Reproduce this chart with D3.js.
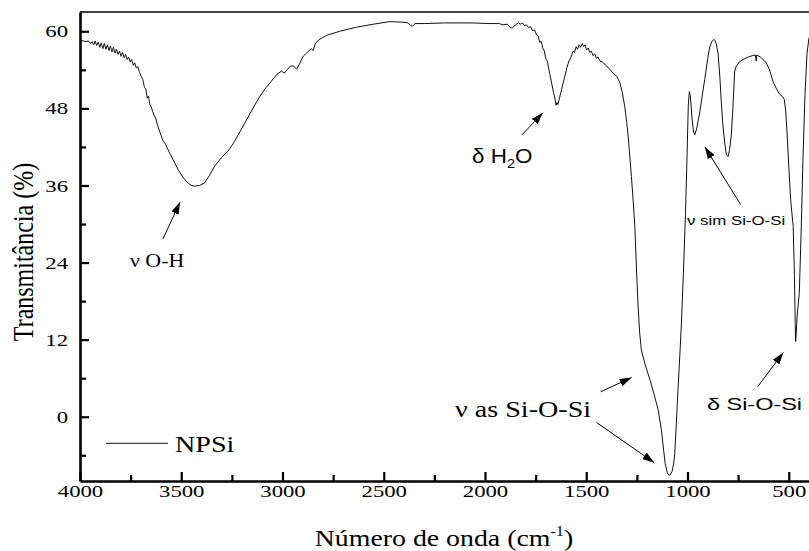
<!DOCTYPE html>
<html>
<head>
<meta charset="utf-8">
<script src="https://cdn.jsdelivr.net/npm/d3@7"></script>
<style>
    body { margin: 0; background: #fff; }
    #chart { width: 809px; height: 551px; }
</style>
</head>
<body>
<div id="chart"></div>
<script>

// FTIR spectrum of NPSi (cm-1, %)
const wavenumber = [
    4000, 3985, 3970, 3958, 3948, 3940, 3932, 3925, 3918, 3910, 3902, 3895, 3887, 3880, 3872, 3865,
    3857, 3850, 3842, 3835, 3827, 3820, 3812, 3805, 3797, 3790, 3782, 3775, 3767, 3760, 3752, 3745,
    3737, 3730, 3722, 3714, 3706, 3698, 3690, 3682, 3675, 3668, 3662, 3656, 3648, 3641, 3634, 3627,
    3615, 3600, 3590, 3578, 3566, 3540, 3516, 3490, 3467, 3450, 3434, 3410, 3385, 3360, 3335, 3300,
    3270, 3240, 3204, 3160, 3121, 3090, 3056, 3030, 3006, 2990, 2978, 2960, 2945, 2930, 2915, 2898,
    2875, 2858, 2848, 2838, 2820, 2780, 2717, 2640, 2552, 2470, 2400, 2380, 2368, 2358, 2345, 2300,
    2200, 2141, 2060, 1976, 1930, 1911, 1890, 1875, 1865, 1850, 1835, 1825, 1815, 1805, 1795, 1785,
    1775, 1765, 1755, 1745, 1738, 1730, 1722, 1715, 1708, 1700, 1692, 1685, 1678, 1670, 1662, 1655,
    1649, 1645, 1640, 1632, 1622, 1606, 1595, 1585, 1575, 1565, 1558, 1550, 1543, 1535, 1528, 1520,
    1513, 1506, 1498, 1490, 1483, 1475, 1466, 1458, 1450, 1442, 1433, 1420, 1400, 1385, 1367, 1350,
    1334, 1322, 1310, 1300, 1293, 1285, 1277, 1268, 1260, 1252, 1244, 1236, 1228, 1210, 1186, 1165,
    1145, 1129, 1118, 1110, 1100, 1092, 1084, 1076, 1068, 1063, 1055, 1047, 1038, 1030, 1020, 1010,
    1002, 996, 991, 986, 978, 970, 964, 955, 940, 915, 900, 890, 880, 870, 864, 858,
    849, 840, 833, 825, 816, 808, 800, 792, 784, 776, 767, 760, 745, 726, 700, 680,
    665, 661, 658, 640, 611, 595, 578, 560, 545, 530, 522, 515, 508, 500, 490, 478,
    472, 468, 466, 463, 458, 448, 438, 430, 420, 410, 400
];
const transmittance = [
    58.6, 58.5, 58.4, 58.5, 58.1, 58.4, 57.9, 58.5, 57.8, 58.3, 57.5, 58.2, 57.3, 58.1, 57.2, 57.9,
    57.0, 57.7, 56.8, 57.5, 56.6, 57.2, 56.4, 56.9, 56.1, 56.7, 55.9, 56.4, 55.6, 56.0, 55.2, 55.6,
    54.7, 55.1, 54.3, 54.5, 53.6, 53.0, 52.5, 51.3, 51.0, 49.6, 49.9, 48.7, 48.2, 47.5, 46.9, 46.5,
    45.2, 43.8, 43.0, 42.4, 41.6, 40.0, 38.5, 37.2, 36.4, 36.0, 35.9, 36.0, 36.4, 37.6, 39.0, 40.4,
    41.3, 42.7, 44.7, 47.2, 49.4, 50.9, 52.2, 53.2, 53.8, 53.5, 54.0, 54.6, 54.6, 54.1, 55.0, 56.1,
    56.8, 57.3, 57.0, 58.1, 58.7, 59.4, 60.0, 60.6, 61.1, 61.5, 61.4, 61.3, 60.9, 60.8, 61.2, 61.2,
    61.3, 61.3, 61.3, 61.2, 61.2, 61.0, 61.1, 60.6, 60.5, 61.0, 61.3, 61.1, 61.3, 60.9, 61.0, 60.6,
    60.7, 60.1, 60.2, 59.4, 59.3, 58.3, 58.4, 57.4, 57.0, 55.8, 55.3, 54.1, 53.0, 51.8, 50.5, 49.6,
    48.5, 48.9, 48.6, 49.6, 50.9, 53.0, 54.4, 55.4, 56.0, 56.9, 56.7, 57.6, 57.2, 57.9, 57.5, 58.1,
    57.6, 57.9, 57.1, 57.4, 56.7, 56.9, 56.2, 56.5, 55.8, 56.0, 55.4, 55.2, 54.6, 54.1, 53.5, 53.0,
    52.0, 50.5, 48.3, 45.8, 43.7, 40.6, 37.4, 33.5, 29.6, 23.0, 17.2, 13.0, 10.4, 8.2, 5.8, 3.5,
    1.1, -2.0, -5.2, -7.3, -8.7, -9.1, -9.0, -8.5, -7.2, -5.7, -1.0, 4.2, 9.5, 14.6, 22.5, 31.5,
    41.0, 48.5, 50.6, 50.0, 46.5, 44.3, 43.9, 44.8, 47.3, 52.5, 55.8, 57.6, 58.4, 58.7, 58.6, 58.0,
    56.6, 52.8, 48.9, 45.3, 42.6, 40.8, 40.5, 41.6, 43.7, 48.0, 53.8, 54.5, 55.2, 55.6, 56.0, 56.2,
    56.3, 55.4, 56.3, 56.0, 55.1, 54.0, 52.2, 51.0, 50.2, 49.8, 49.4, 47.6, 44.0, 39.0, 33.5, 29.6,
    22.0, 14.5, 11.7, 13.0, 16.0, 19.2, 29.6, 40.0, 50.0, 56.5, 59.0
];

const seriesName = "NPSi";

// axis ticks
const xMajorTicks = [4000, 3500, 3000, 2500, 2000, 1500, 1000, 500];
const xMinorTicks = [3750, 3250, 2750, 2250, 1750, 1250, 750];
const yMajorTicks = [0, 12, 24, 36, 48, 60];
const yMinorTicks = [-6, 6, 18, 30, 42, 54];

// band assignments: label text, label anchor [cm-1, %], arrows [from cm-1, from %, to cm-1, to %]
const bandLabels = ["ν O-H", "δ H₂O", "ν sim Si-O-Si", "ν as Si-O-Si", "δ Si-O-Si"];
const bandLabelAt = [[3753, 23.3], [2064, 39.5], [1003, 29.8], [2148, 0.0], [904, 1.05]];
const bandArrows = [
    [3590, 27.7, 3506, 33.4],
    [1817, 43.9, 1714, 47.3],
    [737, 33.0, 914, 42.0],
    [1429, 3.9, 1276, 6.1],
    [1449, -0.9, 1164, -7.15],
    [653, 4.7, 527, 10.0]
];


class SpectrumChart {

    constructor(_parentElement) {
        this.parentElement = _parentElement;
        this.initVis();
    }

    initVis() {
        let vis = this;

        vis.margin = {top: 12, right: 0, bottom: 70, left: 80};
        vis.width = 809 - vis.margin.left - vis.margin.right;
        vis.height = 551 - vis.margin.top - vis.margin.bottom;

        vis.serif = "'Liberation Serif', 'Times New Roman', serif";
        vis.sans = "'Liberation Sans', Arial, sans-serif";

        vis.svg = d3.select("#" + vis.parentElement).append("svg")
            .attr("width", 809)
            .attr("height", 551)
            .append("g")
            .attr("transform", "translate(" + vis.margin.left + "," + vis.margin.top + ")");

        // scales
        vis.x = d3.scaleLinear().domain([4000, 400]).range([0, vis.width]);
        vis.y = d3.scaleLinear().domain([-10, 63]).range([vis.height, 0]);

        // arrow head
        vis.svg.append("defs").append("marker")
            .attr("id", "arrowHead")
            .attr("markerUnits", "userSpaceOnUse")
            .attr("viewBox", "0 0 12 8")
            .attr("refX", 12)
            .attr("refY", 4)
            .attr("markerWidth", 12)
            .attr("markerHeight", 8)
            .attr("orient", "auto")
            .append("path")
            .attr("d", "M0,0 L12,4 L0,8 Z")
            .attr("fill", "#000");

        vis.updateVis();
    }

    updateVis() {
        let vis = this;

        // spectrum
        let points = wavenumber.map((w, i) => [w, transmittance[i]]);
        vis.line = d3.line()
            .x(d => vis.x(d[0]))
            .y(d => vis.y(d[1]));

        vis.svg.append("path")
            .datum(points)
            .attr("d", vis.line)
            .attr("fill", "none")
            .attr("stroke", "#111")
            .attr("stroke-width", 1)
            .attr("stroke-linejoin", "round");

        // top frame
        vis.svg.append("line")
            .attr("x1", 0).attr("x2", vis.width)
            .attr("y1", 0).attr("y2", 0)
            .attr("stroke", "#000")
            .attr("stroke-width", 1.6);

        // minor ticks
        vis.svg.append("g")
            .attr("transform", "translate(0," + vis.height + ")")
            .call(d3.axisBottom(vis.x).tickValues(xMinorTicks).tickSize(-6).tickFormat(""))
            .call(g => g.select(".domain").remove())
            .selectAll("line").attr("stroke-width", 2.2);

        vis.svg.append("g")
            .call(d3.axisLeft(vis.y).tickValues(yMinorTicks).tickSize(-6).tickFormat(""))
            .call(g => g.select(".domain").remove())
            .selectAll("line").attr("stroke-width", 2.2);

        // x axis
        vis.xAxis = vis.svg.append("g")
            .attr("transform", "translate(0," + vis.height + ")")
            .call(d3.axisBottom(vis.x).tickValues(xMajorTicks).tickSize(-9).tickSizeOuter(0).tickPadding(4).tickFormat(d3.format("d")));

        vis.xAxis.select(".domain").attr("stroke-width", 2.6);
        vis.xAxis.selectAll("line").attr("stroke-width", 2.2);
        vis.xAxis.selectAll("text")
            .style("font-family", vis.serif)
            .attr("font-size", 17.5)
            .attr("fill", "#000")
            .attr("transform", "scale(1.3,1)");

        // y axis
        vis.yAxis = vis.svg.append("g")
            .call(d3.axisLeft(vis.y).tickValues(yMajorTicks).tickSize(-9).tickSizeOuter(0).tickPadding(9.2).tickFormat(d3.format("d")));

        vis.yAxis.select(".domain").attr("stroke-width", 2.6);
        vis.yAxis.selectAll("line").attr("stroke-width", 2.2);
        vis.yAxis.selectAll("text")
            .style("font-family", vis.serif)
            .attr("font-size", 17.5)
            .attr("fill", "#000")
            .attr("transform", "scale(1.3,1)");

        // axis titles
        let xTitle = vis.svg.append("text")
            .attr("transform", "translate(" + (444 - vis.margin.left) + "," + (vis.height + 65) + ") scale(1.16,1)")
            .attr("text-anchor", "middle")
            .style("font-family", vis.serif)
            .attr("font-size", 24)
            .attr("fill", "#000");
        xTitle.append("tspan").text("Número de onda (cm");
        xTitle.append("tspan").attr("font-size", 14).attr("dy", -10).text("-1");
        xTitle.append("tspan").attr("dy", 10).text(")");

        vis.svg.append("text")
            .attr("transform", "translate(" + (33 - vis.margin.left) + "," + (252 - vis.margin.top) + ") scale(1.27,1) rotate(-90)")
            .attr("text-anchor", "middle")
            .style("font-family", vis.serif)
            .attr("font-size", 24)
            .attr("fill", "#000")
            .text("Transmitância (%)");

        // legend
        vis.svg.append("line")
            .attr("x1", 26).attr("x2", 88)
            .attr("y1", 431.3).attr("y2", 431.3)
            .attr("stroke", "#111")
            .attr("stroke-width", 1);

        vis.svg.append("text")
            .attr("transform", "translate(95,439.7) scale(1.25,1)")
            .style("font-family", vis.serif)
            .attr("font-size", 22.5)
            .attr("fill", "#000")
            .text(seriesName);

        // band assignments
        let labelStyles = [
            {family: vis.serif, size: 19, sx: 1.15},
            {family: vis.sans, size: 19.5, sx: 1.15},
            {family: vis.sans, size: 12.5, sx: 1.35},
            {family: vis.serif, size: 22.5, sx: 1.25},
            {family: vis.sans, size: 17, sx: 1.38}
        ];

        bandLabels.forEach((label, i) => {
            let st = labelStyles[i];
            let t = vis.svg.append("text")
                .attr("transform", "translate(" + vis.x(bandLabelAt[i][0]) + "," + vis.y(bandLabelAt[i][1]) + ") scale(" + st.sx + ",1)")
                .style("font-family", st.family)
                .attr("font-size", st.size)
                .attr("fill", "#000");

            // subscript digits written as ₂
            let parts = label.split("₂");
            parts.forEach((p, j) => {
                if (j > 0) {
                    t.append("tspan").attr("font-size", st.size * 0.65).attr("dy", 5).text("2");
                    t.append("tspan").attr("dy", -5).text(p);
                } else {
                    t.append("tspan").text(p);
                }
            });
        });

        vis.svg.selectAll(".band-arrow")
            .data(bandArrows)
            .enter()
            .append("line")
            .attr("class", "band-arrow")
            .attr("x1", d => vis.x(d[0]))
            .attr("y1", d => vis.y(d[1]))
            .attr("x2", d => vis.x(d[2]))
            .attr("y2", d => vis.y(d[3]))
            .attr("stroke", "#000")
            .attr("stroke-width", 1)
            .attr("marker-end", "url(#arrowHead)");
    }
}

let spectrumChart = new SpectrumChart("chart");

</script>
</body>
</html>
